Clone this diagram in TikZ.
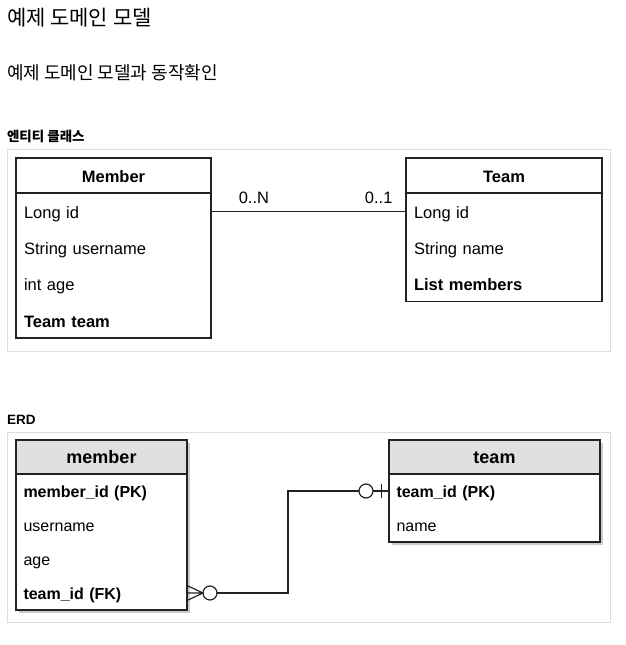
\documentclass[tikz,border=0pt]{standalone}
\usepackage{fontspec}
\setmainfont{Liberation Sans}
\newfontfamily\kr{Noto Sans CJK KR}
\usetikzlibrary{positioning,calc,shadows}
\definecolor{ink}{HTML}{222222}
\definecolor{hdgray}{HTML}{E0E0E0}
\definecolor{panelgray}{HTML}{DDDDDD}

\begin{document}
\begin{tikzpicture}[x=1pt,y=-1pt,
    panel/.style={draw=panelgray,line width=1pt},
    link/.style={draw=ink,line width=1.2pt},
    every node/.style={inner sep=0pt,outer sep=0pt}]
    \useasboundingbox (0,0) rectangle (625,645);
    % headings
    \node[anchor=base west,font=\kr\fontsize{21}{24}\selectfont] (title) at (7,25) {예제 도메인 모델};
    \node[anchor=base west,font=\kr\fontsize{18}{22}\selectfont] (subtitle) at (7,79) {예제 도메인 모델과 동작확인};
    \node[anchor=base west,font=\kr\bfseries\fontsize{13.5}{16}\selectfont] (clstitle) at (7,141) {엔티티 클래스};
    \node[anchor=base west,font=\bfseries\fontsize{13.5}{16}\selectfont] (erdtitle) at (7,424) {ERD};
    \draw[panel] (7,149) rectangle (610,351);
    \draw[panel] (7,432) rectangle (610,622);

    % entity classes
    \begin{scope}[every node/.style={inner ysep=0pt,outer sep=0pt,text height=13pt,text depth=0pt,
            font=\fontsize{16.5}{20}\selectfont},
        clsbox/.style={draw=ink,line width=1.3pt,anchor=north west},
        clshead/.style={draw=ink,line width=1.3pt,anchor=north west,minimum width=#1,
            minimum height=35pt,font=\bfseries\fontsize{16.5}{20}\selectfont},
        clsattr/.style={text width=#1,inner xsep=8pt,minimum height=36.25pt,align=left,text height=14.5pt}]
        \node[clsbox,minimum width=195pt,minimum height=180pt] (member) at (16,158) {};
        \node[clshead=195pt] (memberhd) at (member.north west) {Member};
        \node[clsattr=179pt,below=0pt of memberhd] (mid) {Long id};
        \node[clsattr=179pt,below=0pt of mid] (mname) {String username};
        \node[clsattr=179pt,below=0pt of mname] (mage) {int age};
        \node[clsattr=179pt,below=0pt of mage,font=\bfseries\fontsize{16.5}{20}\selectfont] (mteam) {Team team};

        \node[clsbox,minimum width=196pt,minimum height=143.75pt] (team) at (406,158) {};
        \node[clshead=196pt] (teamhd) at (team.north west) {Team};
        \node[clsattr=180pt,below=0pt of teamhd] (tid) {Long id};
        \node[clsattr=180pt,below=0pt of tid] (tname) {String name};
        \node[clsattr=180pt,below=0pt of tname,font=\bfseries\fontsize{16.5}{20}\selectfont] (tmembers) {List members};

        \draw[link] (mid.east) -- node[pos=.22,above=8pt] {0..N} node[pos=.86,above=8pt] {0..1} (tid.west);
    \end{scope}

    % ERD
    \begin{scope}[every node/.style={inner ysep=0pt,outer sep=0pt,text height=12.5pt,text depth=0pt,
            font=\fontsize{16}{19}\selectfont},
        erbox/.style={draw=ink,fill=white,line width=1.3pt,anchor=north west,
            drop shadow={shadow xshift=3pt,shadow yshift=-3pt,opacity=.45,fill=black!45}},
        erhead/.style={draw=ink,fill=hdgray,line width=1.3pt,anchor=north west,minimum width=#1,
            minimum height=34pt,font=\bfseries\fontsize{18}{22}\selectfont},
        erattr/.style={text width=#1,inner xsep=7.5pt,minimum height=34pt,align=left},
        erkey/.style={font=\bfseries\fontsize{16}{19}\selectfont},
        erring/.style={circle,draw=ink,fill=white,line width=1.2pt,minimum size=14pt,text height=0pt}]
        \node[erbox,minimum width=171pt,minimum height=170pt] (mbr) at (16,440) {};
        \node[erhead=171pt] (mbrhd) at (mbr.north west) {member};
        \node[erattr=156pt,erkey,below=0pt of mbrhd] (mpk) {member\_id (PK)};
        \node[erattr=156pt,below=0pt of mpk] (muser) {username};
        \node[erattr=156pt,below=0pt of muser] (mage2) {age};
        \node[erattr=156pt,erkey,below=0pt of mage2] (mfk) {team\_id (FK)};

        \node[erbox,minimum width=211pt,minimum height=102pt] (tm) at (389,440) {};
        \node[erhead=211pt] (tmhd) at (tm.north west) {team};
        \node[erattr=196pt,erkey,below=0pt of tmhd] (tpk) {team\_id (PK)};
        \node[erattr=196pt,below=0pt of tpk] (tmname) {name};

        \node[erring] (mring) at ([xshift=23pt]mfk.east) {};
        \node[erring] (tring) at ([xshift=-23pt]tpk.west) {};
        % zero or many
        \draw[link] ([yshift=7.5pt]mfk.east) -- (mring.west) -- ([yshift=-7.5pt]mfk.east)
            (mfk.east) -- (mring.west);
        \draw[link] (mring) -| ($(mring)!.5!(tring)$) |- (tring);
        % zero or one
        \draw[link] (tring) -- (tpk.west);
        \draw[link] ([xshift=-7.5pt,yshift=7pt]tpk.west) -- ([xshift=-7.5pt,yshift=-7pt]tpk.west);
    \end{scope}
\end{tikzpicture}
\end{document}
